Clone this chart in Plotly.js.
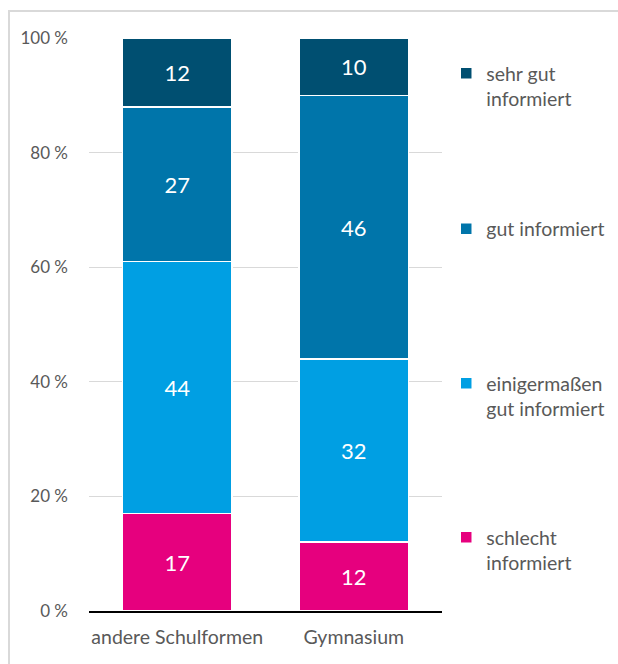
<!DOCTYPE html>
<html>
<head>
<meta charset="utf-8">
<script src="https://cdn.plot.ly/plotly-3.0.1.min.js"></script>
<style>
  html, body { margin: 0; padding: 0; background: #fff; }
  #wrap { position: relative; width: 618px; height: 664px; overflow: hidden; }
  #frame { position: absolute; left: 8px; top: 10px; width: 700px; height: 700px;
           border-top: 2px solid #d9d9d9; border-left: 2px solid #d9d9d9; box-sizing: border-box; }
  #chart { position: absolute; left: 0; top: 0; width: 618px; height: 664px; }
</style>
</head>
<body>
<div id="wrap">
  <div id="frame"></div>
  <div id="chart"></div>
</div>
<script>
const categories = ["andere Schulformen", "Gymnasium"];
const seriesNames = ["schlecht<br>informiert", "einigermaßen<br>gut informiert", "gut informiert", "sehr gut<br>informiert"];
const schlecht = [17, 12];
const einigermassen = [44, 32];
const gut = [27, 46];
const sehrGut = [12, 10];
const yTicks = [0, 20, 40, 60, 80, 100];

const seriesValues = [schlecht, einigermassen, gut, sehrGut];
const colors = ["#e6007e", "#009fe3", "#0075aa", "#004f71"];
const legendIds = ["legend4", "legend3", "legend2", "legend"];

const font = "Lato, 'Open Sans', sans-serif";
const H = 664, mt = 38, mb = 53;
const plotH = H - mt - mb;

const traces = seriesValues.map((vals, i) => ({
  type: "bar",
  x: categories,
  y: vals,
  name: seriesNames[i],
  legend: legendIds[i],
  marker: { color: colors[i], line: { color: "#ffffff", width: 1.5 } },
  text: vals.map(String),
  textposition: "inside",
  insidetextanchor: "middle",
  textfont: { color: "#ffffff", size: 22, family: font },
  hoverinfo: "skip",
  width: 0.62
}));

const layout = {
  width: 618, height: 664,
  margin: { l: 89, r: 176, t: mt, b: mb, autoexpand: false },
  paper_bgcolor: "rgba(0,0,0,0)",
  plot_bgcolor: "rgba(0,0,0,0)",
  barmode: "stack",
  font: { family: font, color: "#595959", size: 17 },
  xaxis: {
    showgrid: false, showline: true, linecolor: "#000000", linewidth: 2,
    ticks: "", ticklabelstandoff: 8, tickfont: { size: 19.5, color: "#595959" }, fixedrange: true,
    automargin: false
  },
  yaxis: {
    range: [0, 100], tickvals: yTicks, ticktext: yTicks.map(v => v + " %"),
    showgrid: true, gridcolor: "#d9d9d9", gridwidth: 1, zeroline: false,
    showline: false, ticks: "", ticklabelstandoff: 20,
    tickfont: { size: 17, color: "#595959" }, fixedrange: true, automargin: false
  },
  showlegend: true
};

const legendCenters = [86, 229, 396, 550]; // sehr gut, gut, einigermaßen, schlecht (pixel y)
["legend", "legend2", "legend3", "legend4"].forEach((id, k) => {
  const py = legendCenters[k];
  const yPaper = 1 - (py - mt) / plotH;
  layout[id] = {
    x: 1.012, xanchor: "left", y: yPaper, yanchor: "middle",
    bgcolor: "rgba(0,0,0,0)",
    font: { size: 19.5, color: "#595959", family: font },
    itemwidth: 30, valign: "top"
  };
});

Plotly.newPlot("chart", traces, layout, { displayModeBar: false, staticPlot: true });
</script>
</body>
</html>
